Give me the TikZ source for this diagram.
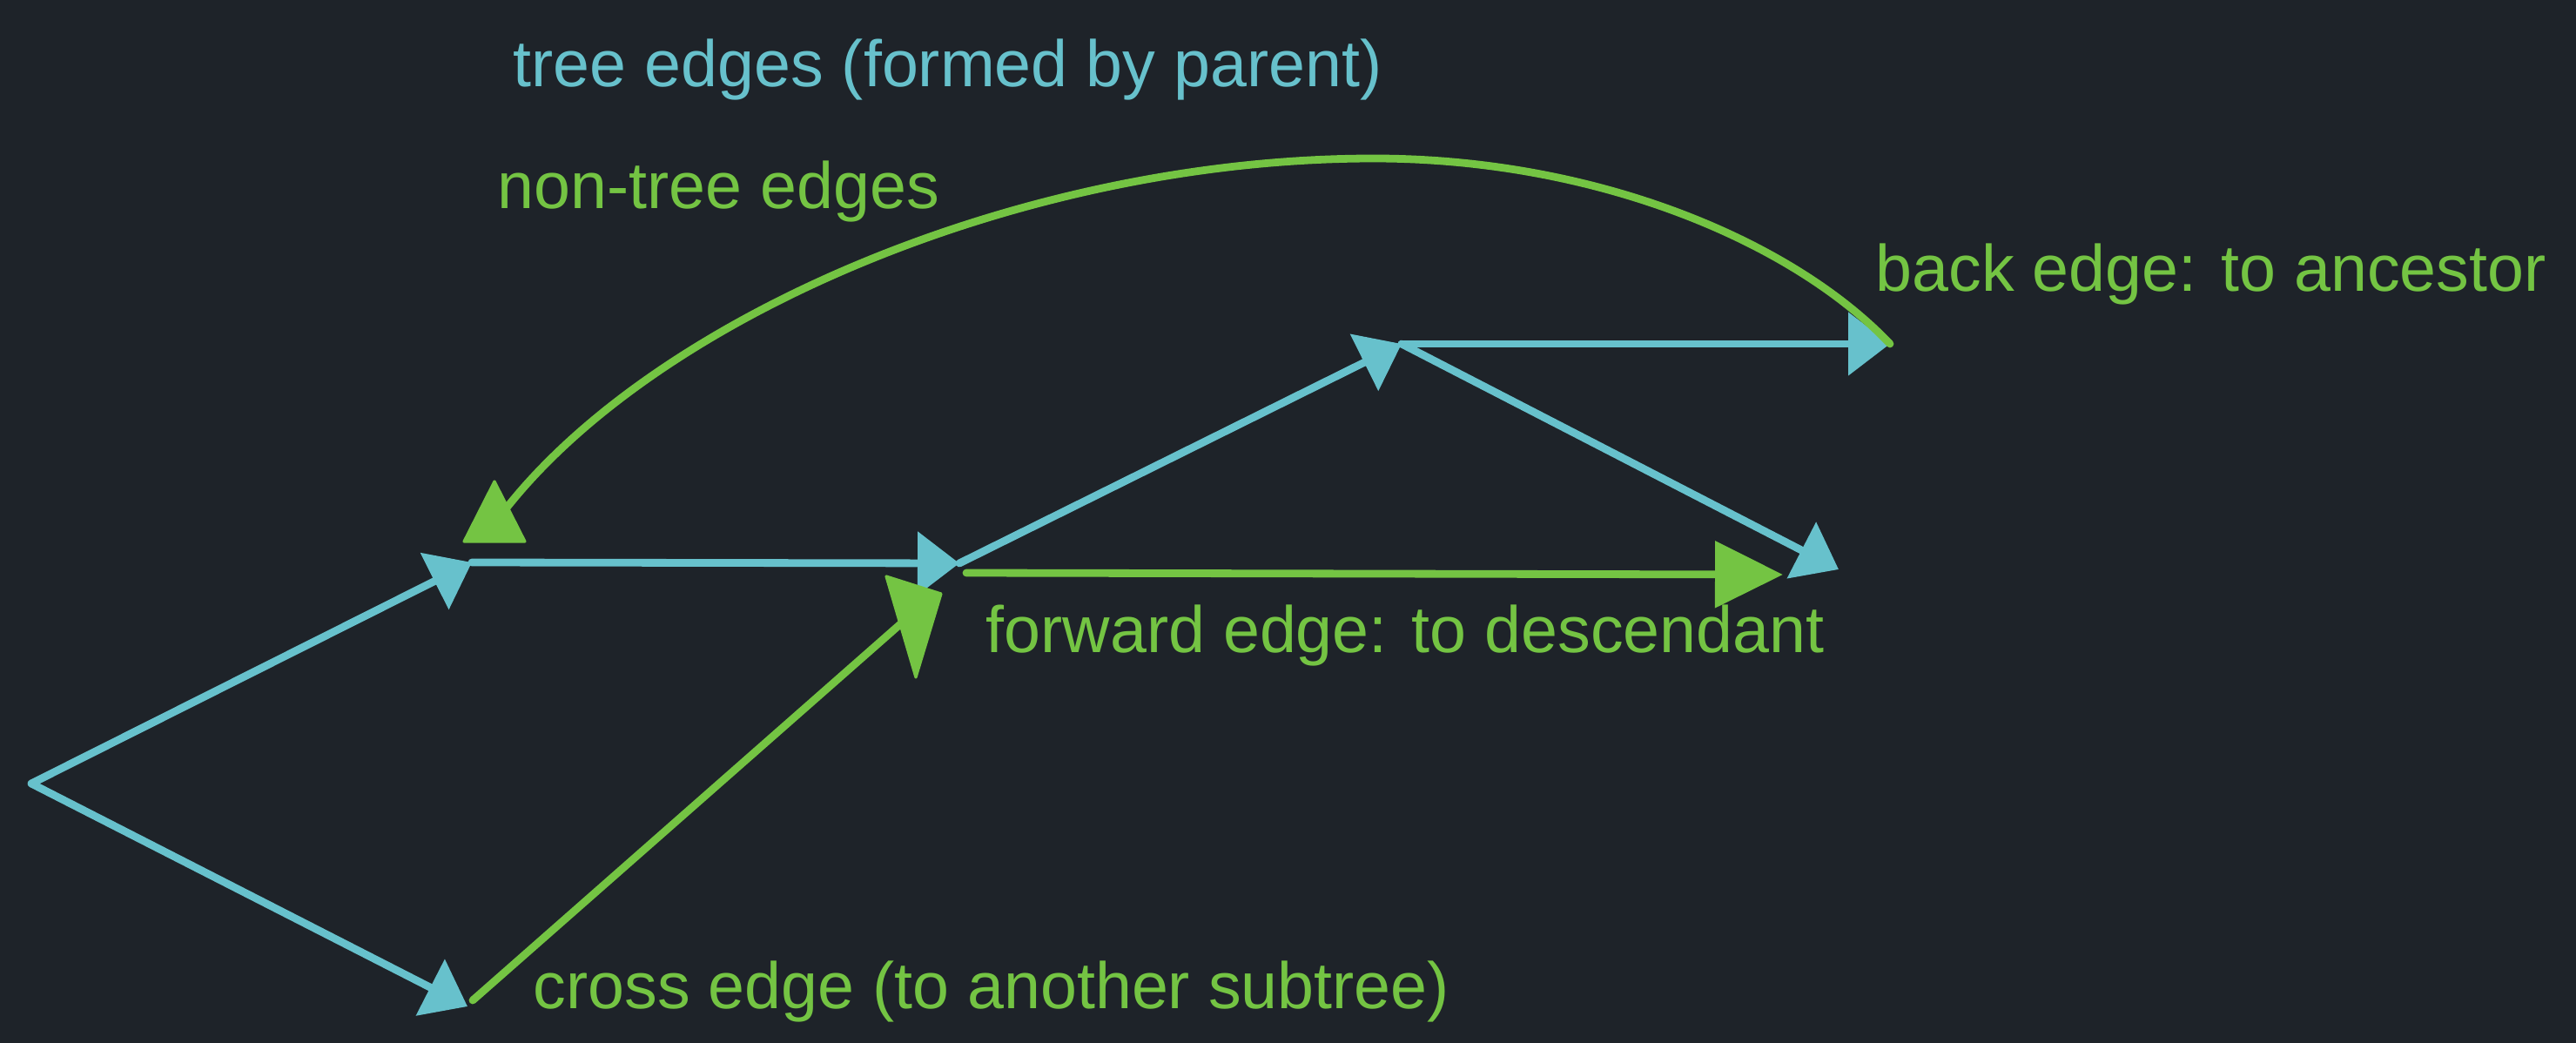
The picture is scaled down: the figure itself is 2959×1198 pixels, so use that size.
\documentclass[tikz,border=0pt]{standalone}
\usepackage{fontspec}
\setmainfont{Liberation Sans}
\usetikzlibrary{arrows.meta}
\definecolor{bg}{HTML}{1E2329}
\definecolor{treeblue}{HTML}{67C1CC}
\definecolor{nongreen}{HTML}{74C443}
\begin{document}
\begin{tikzpicture}[x=0.25pt,y=-0.25pt,
  treeedge/.style={draw=treeblue, line width=2.2pt, line cap=round,
    -{Triangle[length=12pt,width=17.75pt]}},
  nonedge/.style={draw=nongreen, line width=2.2pt, line cap=round},
  fwdtip/.style={-{Triangle[length=19.5pt,width=18.75pt]}},
  greentip/.style={fill=nongreen, draw=nongreen, line width=0.8pt, line join=round},
  lbl/.style={inner sep=0pt, anchor=base west, font=\fontsize{18.85}{23}\selectfont},
  treelbl/.style={lbl, text=treeblue},
  nonlbl/.style={lbl, text=nongreen}]
\fill[bg] (0,0) rectangle (2959,1198);
\useasboundingbox (0,0) rectangle (2959,1198);

% vertices
\coordinate (A) at (36,900);
\coordinate (B) at (542,646);
\coordinate (C) at (537,1156);
\coordinate (D) at (1102,647);
\coordinate (E) at (1610,395);
\coordinate (F) at (2171,395);
\coordinate (G) at (2112,654);
% free ends of non-tree edges
\coordinate (Cs) at (543,1149);
\coordinate (Ce) at (1050,703);
\coordinate (Ds) at (1110,658);
\coordinate (Ge) at (2048,660);
\coordinate (Bt) at (583,582);

% tree edges
\draw[treeedge] (A) -- (B);
\draw[treeedge] (A) -- (C);
\draw[treeedge] (B) -- (D);
\draw[treeedge] (D) -- (E);
\draw[treeedge] (E) -- (F);
\draw[treeedge] (E) -- (G);

% forward edge
\draw[nonedge, fwdtip] (Ds) -- (Ge);
% cross edge
\draw[nonedge] (Cs) -- (Ce);
\filldraw[greentip] (1018,662) -- (1081,682) -- (1052,778) -- cycle;
% back edge
\draw[nonedge] (F) .. controls (2060,278) and (1835,182) .. (1578,182)
  .. controls (1180,182) and (760,360) .. (Bt);
\filldraw[greentip] (568,553) -- (603,622) -- (533,622) -- cycle;

% labels
\node[treelbl] (ltree) at (589,100) {tree edges (formed by parent)};
\node[nonlbl] (lnon) at (571,240) {non-tree edges};
\node[nonlbl] (lback) at (2154,335) {back edge: to ancestor};
\node[nonlbl] (lfwd) at (1132,749) {forward edge: to descendant};
\node[nonlbl] (lcross) at (612,1158) {cross edge (to another subtree)};
\end{tikzpicture}
\end{document}
